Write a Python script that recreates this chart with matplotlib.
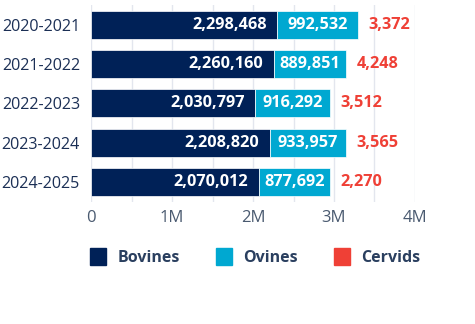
import matplotlib
matplotlib.use("Agg")
import matplotlib.pyplot as plt
from matplotlib.ticker import FuncFormatter, MultipleLocator
from matplotlib.patches import Patch

plt.rcParams['font.family'] = ['Open Sans', 'DejaVu Sans']

years = ["2020-2021", "2021-2022", "2022-2023", "2023-2024", "2024-2025"]
bovines = [2298468, 2260160, 2030797, 2208820, 2070012]
ovines = [992532, 889851, 916292, 933957, 877692]
cervids = [3372, 4248, 3512, 3565, 2270]

c_bov = "#002157"
c_ovi = "#00a8d1"
c_cer = "#ef4036"
txt = "#2a3f5f"

fig = plt.figure(figsize=(4.75, 3.24), dpi=100)
ax = fig.add_axes([91/475, 1-201.5/324, (415-91)/475, (201.5-5)/324])

y = list(range(len(years)))
h = 0.71
ax.barh(y, bovines, height=h, color=c_bov, edgecolor="white", linewidth=0.5, zorder=3)
ax.barh(y, ovines, left=bovines, height=h, color=c_ovi, edgecolor="white", linewidth=0.5, zorder=3)
left2 = [b + o for b, o in zip(bovines, ovines)]
ax.barh(y, cervids, left=left2, height=h, color=c_cer, zorder=3)

fs = 11.7
for i in y:
    ax.text(bovines[i] - 130000, i, f"{bovines[i]:,}", ha="right", va="center",
            color="white", fontsize=fs, fontweight="bold", zorder=4)
    ax.text(bovines[i] + ovines[i] / 2, i, f"{ovines[i]:,}", ha="center", va="center",
            color="white", fontsize=fs, fontweight="bold", zorder=4)
    ax.text(left2[i] + cervids[i] + 130000, i, f"{cervids[i]:,}", ha="left", va="center",
            color=c_cer, fontsize=fs, fontweight="bold", zorder=4)

ax.set_xlim(0, 4000000)
ax.set_ylim(len(years) - 0.5, -0.5)
ax.set_yticks(y)
ax.set_yticklabels(years)
ax.xaxis.set_major_locator(MultipleLocator(1000000))
ax.xaxis.set_minor_locator(MultipleLocator(500000))
ax.xaxis.set_major_formatter(FuncFormatter(lambda v, p: "0" if v == 0 else f"{int(v/1e6)}M"))
ax.grid(axis="x", which="both", color="#e3e6ee", linewidth=1, zorder=0)
for s in ax.spines.values():
    s.set_visible(False)
ax.tick_params(axis="both", which="both", length=0)
ax.tick_params(axis="y", labelsize=11.6, labelcolor="#1b2f55", pad=8)
ax.tick_params(axis="x", labelsize=12, labelcolor="#4a5a70", pad=6)

handles = [Patch(color=c_bov, label="Bovines"), Patch(color=c_ovi, label="Ovines"),
           Patch(color=c_cer, label="Cervids")]
leg = fig.legend(handles=handles, loc="center left", bbox_to_anchor=(76/475, 1-257/324),
                 ncol=3, frameon=False, handlelength=1.0, handleheight=1.25,
                 handletextpad=0.7, columnspacing=2.27,
                 prop={"size": 11.5, "weight": "bold"})
for t in leg.get_texts():
    t.set_color(txt)

fig.savefig("out.png", dpi=100)
